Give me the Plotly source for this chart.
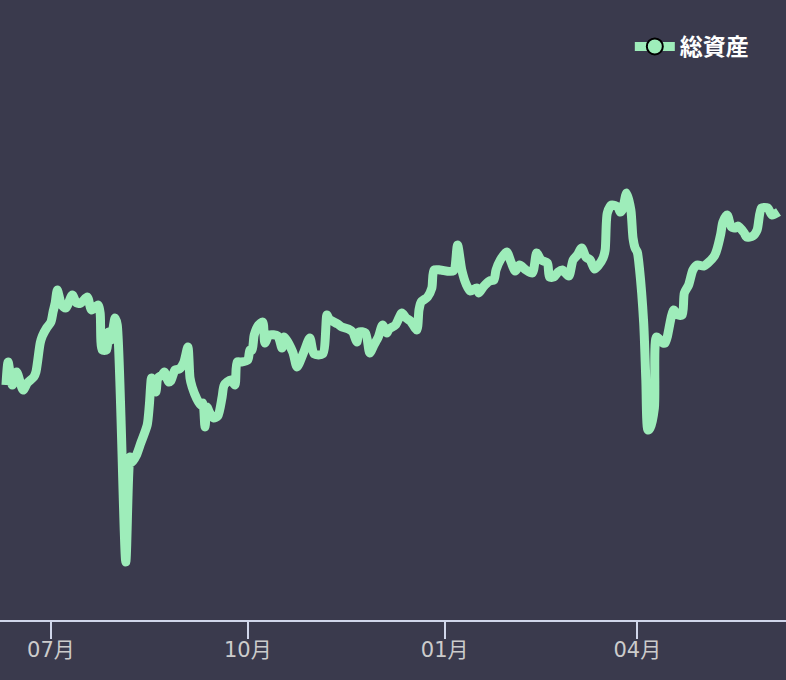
import plotly.graph_objects as go

dates = [
    "2022-06-10", "2022-06-11", "2022-06-13", "2022-06-15", "2022-06-18", "2022-06-20", "2022-06-23", "2022-06-24",
    "2022-06-26", "2022-06-27", "2022-06-29", "2022-07-01", "2022-07-02", "2022-07-03", "2022-07-04", "2022-07-06",
    "2022-07-08", "2022-07-11", "2022-07-13", "2022-07-15", "2022-07-18", "2022-07-20", "2022-07-23", "2022-07-24",
    "2022-07-25", "2022-07-27", "2022-07-28", "2022-07-29", "2022-07-31", "2022-08-01", "2022-08-05", "2022-08-07",
    "2022-08-08", "2022-08-10", "2022-08-12", "2022-08-15", "2022-08-16", "2022-08-17", "2022-08-18", "2022-08-19",
    "2022-08-20", "2022-08-22", "2022-08-23", "2022-08-25", "2022-08-26", "2022-08-28", "2022-08-30", "2022-09-01",
    "2022-09-03", "2022-09-04", "2022-09-05", "2022-09-07", "2022-09-09", "2022-09-10", "2022-09-11", "2022-09-12",
    "2022-09-13", "2022-09-15", "2022-09-17", "2022-09-19", "2022-09-20", "2022-09-23", "2022-09-25", "2022-09-26",
    "2022-09-28", "2022-10-01", "2022-10-02", "2022-10-03", "2022-10-04", "2022-10-06", "2022-10-08", "2022-10-09",
    "2022-10-11", "2022-10-15", "2022-10-17", "2022-10-18", "2022-10-22", "2022-10-24", "2022-10-27", "2022-10-30",
    "2022-11-01", "2022-11-05", "2022-11-07", "2022-11-08", "2022-11-12", "2022-11-14", "2022-11-17", "2022-11-19",
    "2022-11-21", "2022-11-22", "2022-11-25", "2022-11-27", "2022-11-29", "2022-12-01", "2022-12-03", "2022-12-05",
    "2022-12-06", "2022-12-09", "2022-12-12", "2022-12-14", "2022-12-16", "2022-12-19", "2022-12-20", "2022-12-21",
    "2022-12-24", "2022-12-26", "2022-12-27", "2022-12-30", "2023-01-05", "2023-01-07", "2023-01-09", "2023-01-11",
    "2023-01-13", "2023-01-16", "2023-01-17", "2023-01-19", "2023-01-22", "2023-01-24", "2023-01-25", "2023-01-27",
    "2023-01-30", "2023-02-01", "2023-02-03", "2023-02-05", "2023-02-08", "2023-02-11", "2023-02-13", "2023-02-15",
    "2023-02-18", "2023-02-19", "2023-02-21", "2023-02-23", "2023-02-25", "2023-02-28", "2023-03-02", "2023-03-04",
    "2023-03-06", "2023-03-08", "2023-03-10", "2023-03-12", "2023-03-14", "2023-03-16", "2023-03-17", "2023-03-18",
    "2023-03-20", "2023-03-23", "2023-03-24", "2023-03-25", "2023-03-27", "2023-03-29", "2023-03-30", "2023-03-31",
    "2023-04-01", "2023-04-02", "2023-04-04", "2023-04-05", "2023-04-06", "2023-04-07", "2023-04-09", "2023-04-10",
    "2023-04-13", "2023-04-14", "2023-04-15", "2023-04-18", "2023-04-20", "2023-04-22", "2023-04-23", "2023-04-25",
    "2023-04-27", "2023-04-29", "2023-05-02", "2023-05-04", "2023-05-07", "2023-05-08", "2023-05-10", "2023-05-11",
    "2023-05-13", "2023-05-15", "2023-05-17", "2023-05-18", "2023-05-21", "2023-05-22", "2023-05-25", "2023-05-27",
    "2023-05-29", "2023-06-01", "2023-06-03", "2023-06-06",
]

total_assets = [
    2350, 2580, 2350, 2480, 2300, 2370, 2430, 2480,
    2770, 2840, 2920, 2980, 3080, 3170, 3300, 3150,
    3120, 3250, 3170, 3170, 3230, 3100, 3150, 3070,
    2700, 2700, 2880, 2800, 3020, 2950, 580, 1630,
    1580, 1650, 1770, 1950, 2150, 2420, 2300, 2280,
    2420, 2450, 2480, 2380, 2390, 2500, 2510, 2570,
    2730, 2420, 2330, 2220, 2150, 2170, 1930, 2130,
    2080, 2020, 2040, 2230, 2350, 2400, 2350, 2580,
    2580, 2600, 2700, 2700, 2850, 2950, 2980, 2770,
    2850, 2840, 2720, 2830, 2680, 2530, 2670, 2820,
    2660, 2660, 3050, 3010, 2960, 2930, 2910, 2880,
    2780, 2880, 2870, 2670, 2750, 2830, 2950, 2870,
    2910, 2950, 3070, 3020, 2990, 2900, 3100, 3180,
    3230, 3320, 3500, 3500, 3490, 3750, 3500, 3360,
    3290, 3320, 3270, 3330, 3390, 3400, 3500, 3600,
    3680, 3580, 3490, 3550, 3500, 3470, 3670, 3600,
    3570, 3430, 3430, 3480, 3500, 3440, 3600, 3650,
    3720, 3630, 3600, 3510, 3550, 3620, 3700, 4070,
    4150, 4130, 4080, 4100, 4270, 4100, 3820, 3720,
    3680, 3520, 2970, 2400, 1900, 1920, 2120, 2830,
    2770, 2770, 2830, 3100, 3050, 3050, 3270, 3350,
    3500, 3550, 3540, 3570, 3640, 3690, 3860, 3980,
    4050, 3930, 3920, 3940, 3870, 3830, 3840, 3900,
    4120, 4120, 4050, 4080,
]

series_name = "総資産"
tick_format = "%m月"

BG = "#3a3a4d"
LINE = "#9eedba"
AXIS = "#d0d6ea"
LABEL = "#cccccc"

fig = go.Figure()
fig.add_trace(go.Scatter(
    x=dates, y=total_assets, mode="lines", name=series_name, showlegend=False,
    line=dict(color=LINE, width=9, shape="spline", smoothing=0.7),
    hoverinfo="skip",
))
fig.add_trace(go.Scatter(
    x=[None], y=[None], mode="lines+markers", name=series_name, showlegend=True,
    line=dict(color=LINE, width=9),
    marker=dict(size=16, color=LINE, line=dict(color="#000000", width=2)),
))

fig.update_layout(
    width=786, height=680,
    margin=dict(l=0, r=0, t=0, b=60),
    paper_bgcolor=BG, plot_bgcolor=BG,
    showlegend=True,
    legend=dict(
        x=0.8013, y=0.925, xanchor="left", yanchor="middle",
        itemwidth=40,
        bgcolor="rgba(0,0,0,0)",
        font=dict(family="Noto Sans CJK JP", size=23, color="#ffffff", weight="bold"),
    ),
    xaxis=dict(
        type="date",
        range=["2022-06-07 05:00", "2023-06-09 12:00"],
        tick0="2022-07-01", dtick="M3", tickformat=tick_format,
        showgrid=False, zeroline=False,
        showline=True, linecolor=AXIS, linewidth=2,
        ticks="outside", ticklen=17, tickwidth=2, tickcolor=AXIS,
        ticklabelstandoff=-7,
        tickfont=dict(family="DejaVu Sans, Noto Sans CJK JP", size=21, color=LABEL),
        fixedrange=True,
    ),
    yaxis=dict(visible=False, range=[0, 6200], fixedrange=True),
)

fig.write_html(
    "out.html",
    config={"displayModeBar": False},
    post_script="document.body.style.margin='0';document.body.style.overflow='hidden';",
)
